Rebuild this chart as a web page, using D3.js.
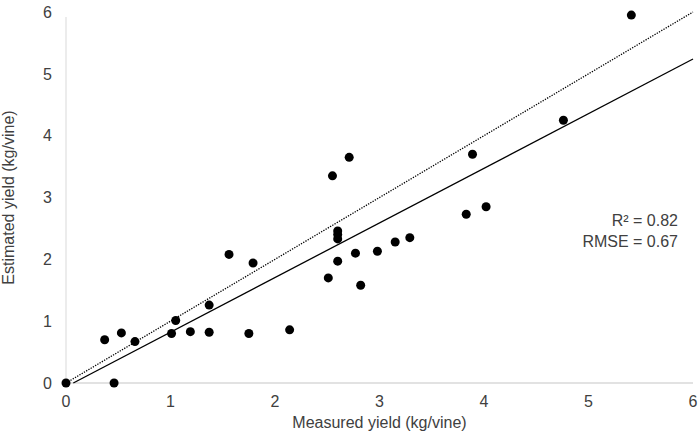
<!DOCTYPE html>
<html>
<head>
<meta charset="utf-8">
<script src="https://cdn.jsdelivr.net/npm/d3@7"></script>
<style>
  body { margin: 0; background: #fff; }
  text { font-family: "Liberation Sans", Arial, sans-serif; fill: #404040; }
</style>
</head>
<body>
<svg id="chart" width="700" height="442"></svg>
<script>
// measured yield (kg/vine)
var measured = [0, 0.46, 0.37, 0.53, 0.66, 1.01, 1.05, 1.19, 1.37, 1.37, 1.75, 2.14,
                1.56, 1.79, 2.55, 2.71, 2.60, 2.60, 2.60, 2.60, 2.51, 2.77, 2.82, 2.98,
                3.15, 3.29, 3.83, 4.02, 3.89, 4.76, 5.41];
// estimated yield (kg/vine)
var estimated = [0, 0, 0.70, 0.81, 0.67, 0.80, 1.01, 0.83, 1.26, 0.82, 0.80, 0.86,
                 2.08, 1.94, 3.35, 3.65, 2.46, 2.40, 2.33, 1.97, 1.70, 2.10, 1.58, 2.13,
                 2.28, 2.35, 2.73, 2.85, 3.70, 4.25, 5.95];
var xTicks = [0, 1, 2, 3, 4, 5, 6];
var yTicks = [0, 1, 2, 3, 4, 5, 6];
// fitted line and 1:1 line end points
var fitLine = [[0.07, 0], [6, 5.24]];
var oneToOne = [[0, 0], [6, 6]];
var stats = ["R\u00b2 = 0.82", "RMSE = 0.67"];

var svg = d3.select("#chart");
var margin = {left: 66, right: 7, top: 12, bottom: 59};
var W = 700, H = 442;

var x = d3.scaleLinear().domain([0, 6]).range([margin.left, W - margin.right]);
var y = d3.scaleLinear().domain([0, 6]).range([H - margin.bottom, margin.top]);

// axis lines (light grey, no grid)
svg.append("line")
    .attr("x1", x(0)).attr("x2", x(0))
    .attr("y1", y(6) + 5).attr("y2", y(0))
    .attr("stroke", "#d9d9d9").attr("stroke-width", 1);
svg.append("line")
    .attr("x1", x(0)).attr("x2", x(6))
    .attr("y1", y(0)).attr("y2", y(0))
    .attr("stroke", "#d9d9d9").attr("stroke-width", 1.5);

svg.selectAll(".xt").data(xTicks).enter().append("text")
    .attr("class", "xt")
    .attr("x", d => x(d)).attr("y", 407)
    .attr("text-anchor", "middle")
    .style("font-size", "16px")
    .text(d => d);

svg.selectAll(".yt").data(yTicks).enter().append("text")
    .attr("class", "yt")
    .attr("x", 52).attr("y", d => y(d))
    .attr("dy", "0.36em")
    .attr("text-anchor", "end")
    .style("font-size", "16px")
    .text(d => d);

svg.append("text")
    .attr("x", (x(0) + x(6)) / 2).attr("y", 428)
    .attr("text-anchor", "middle")
    .style("font-size", "16px")
    .text("Measured yield (kg/vine)");

svg.append("text")
    .attr("transform", "translate(14," + ((y(0) + y(6)) / 2) + ") rotate(-90)")
    .attr("text-anchor", "middle")
    .style("font-size", "16px")
    .text("Estimated yield (kg/vine)");

var line = d3.line().x(d => x(d[0])).y(d => y(d[1]));

svg.append("path")
    .attr("d", line(oneToOne))
    .attr("fill", "none")
    .attr("stroke", "#000")
    .attr("stroke-width", 1.3)
    .attr("stroke-dasharray", "1.3,1.3");

svg.append("path")
    .attr("d", line(fitLine))
    .attr("fill", "none")
    .attr("stroke", "#000")
    .attr("stroke-width", 1.3);

svg.selectAll(".pt").data(measured).enter().append("circle")
    .attr("class", "pt")
    .attr("cx", d => x(d))
    .attr("cy", (d, i) => y(estimated[i]))
    .attr("r", 4.5)
    .attr("fill", "#000");

svg.selectAll(".st").data(stats).enter().append("text")
    .attr("class", "st")
    .attr("x", 678)
    .attr("y", (d, i) => 226 + i * 21)
    .attr("text-anchor", "end")
    .style("font-size", "16px")
    .text(d => d);
</script>
</body>
</html>
